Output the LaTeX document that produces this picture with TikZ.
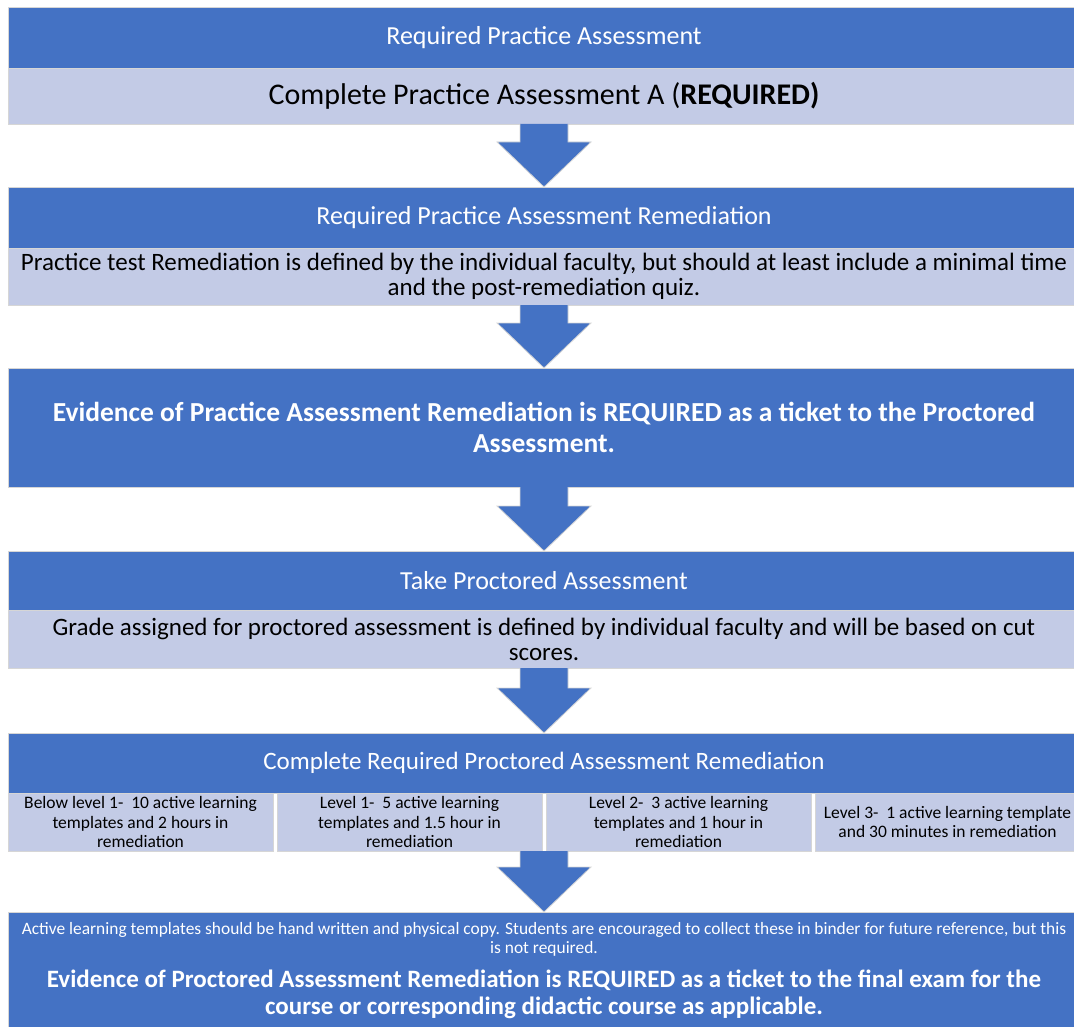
\documentclass[tikz,border=0pt]{standalone}
\usepackage{fontspec}
\setmainfont{Carlito}
\usetikzlibrary{calc}

\definecolor{darkblue}{HTML}{4472C4}
\definecolor{paleblue}{HTML}{C3CBE6}
\definecolor{rimgray}{HTML}{D6D6D6}

\tikzset{
    boxbase/.style={anchor=north west, inner sep=0pt, outer sep=0pt, draw=rimgray, line width=0.8pt, align=center},
    hdbox/.style={boxbase, fill=darkblue, text=white, minimum width=1072, font=\fontsize{26}{30}\selectfont},
    lightbox/.style={boxbase, fill=paleblue, text=black, minimum width=1072, font=\fontsize{25}{25}\selectfont},
    cellbox/.style={boxbase, fill=paleblue, text=black, minimum width=265, minimum height=58, font=\fontsize{17.5}{19.5}\selectfont},
    blockarrow/.style={fill=darkblue, draw=rimgray, line width=0.8pt}
}

\begin{document}
\begin{tikzpicture}[x=1pt, y=1pt]
    \useasboundingbox (0,0) rectangle (1074,-1027);
    \clip (0,0) rectangle (1074,-1027);

    % practice assessment
    \node [hdbox, minimum height=61] (h1) at (8,-7) {Required Practice Assessment};
    \node [lightbox, minimum height=56, font=\fontsize{30}{34}\selectfont] (l1) at (8,-68) {Complete Practice Assessment A (\textbf{REQUIRED)}};

    % practice remediation
    \node [hdbox, minimum height=61] (h2) at (8,-187) {Required Practice Assessment Remediation};
    \node [lightbox, minimum height=57] (l2) at (8,-248) {Practice test Remediation is defined by the individual faculty, but should at least include a minimal time\\and the post-remediation quiz.};

    % ticket
    \node [hdbox, minimum height=119, font=\fontsize{27.5}{31}\selectfont\bfseries] (b3) at (8,-368) {Evidence of Practice Assessment Remediation is REQUIRED as a ticket to the Proctored\\Assessment.};

    % proctored assessment
    \node [hdbox, minimum height=59] (h4) at (8,-551) {Take Proctored Assessment};
    \node [lightbox, minimum height=58] (l4) at (8,-610) {Grade assigned for proctored assessment is defined by individual faculty and will be based on cut\\scores.};

    % proctored remediation
    \node [hdbox, minimum height=60, font=\fontsize{25}{30}\selectfont] (h5) at (8,-733) {Complete Required Proctored Assessment Remediation};
    \node [cellbox] (k1) at (8,-793) {Below level 1-\ \ 10 active learning\\templates and 2 hours in\\remediation};
    \node [cellbox] (k2) at (277,-793) {Level 1-\ \ 5 active learning\\templates and 1.5 hour in\\remediation};
    \node [cellbox] (k3) at (546,-793) {Level 2-\ \ 3 active learning\\templates and 1 hour in\\remediation};
    \node [cellbox] (k4) at (815,-793) {Level 3-\ \ 1 active learning template\\and 30 minutes in remediation};
    \coordinate (r5) at (h5.south |- k1.south);

    % final ticket
    \node [hdbox, minimum height=118] (b6) at (8,-912) {};
    \node [text=white, align=center, font=\fontsize{17.4}{19}\selectfont] (n6) at (544,-939) {Active learning templates should be hand written and physical copy. Students are encouraged to collect these in binder for future reference, but this\\is not required.};
    \node [text=white, align=center, font=\fontsize{25}{27}\selectfont\bfseries] (t6) at (544,-994) {Evidence of Proctored Assessment Remediation is REQUIRED as a ticket to the final exam for the\\course or corresponding didactic course as applicable.};

    % arrows
    \foreach \a/\b in {l1/h2, l2/b3, b3/h4, l4/h5, r5/b6}
        \draw [blockarrow] ($(\a.south)+(-24,0)$) -- ($(\b.north)+(-24,45)$) -- ($(\b.north)+(-47,45)$) -- (\b.north)
            -- ($(\b.north)+(47,45)$) -- ($(\b.north)+(24,45)$) -- ($(\a.south)+(24,0)$);
\end{tikzpicture}
\end{document}
